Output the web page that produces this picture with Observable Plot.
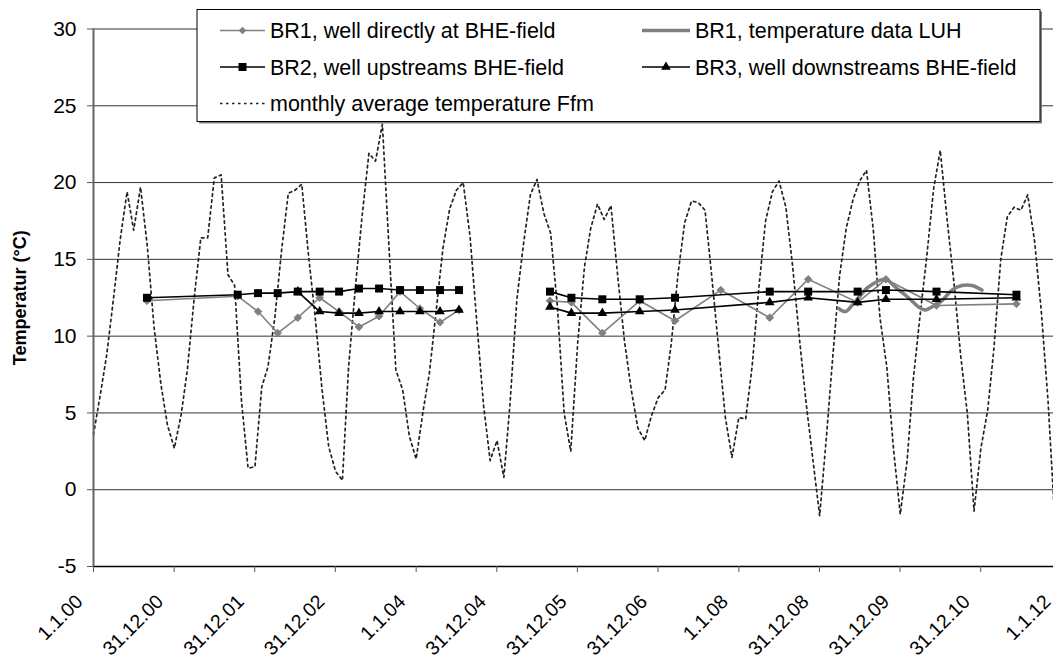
<!DOCTYPE html>
<html><head><meta charset="utf-8">
<script src="https://cdn.jsdelivr.net/npm/d3@7"></script>
<script src="https://cdn.jsdelivr.net/npm/@observablehq/plot@0.6"></script>
<style>
html,body{margin:0;padding:0;background:#fff;overflow:hidden;}
#wrap{position:relative;width:1053px;height:659px;overflow:hidden;font-family:"Liberation Sans",Arial,sans-serif;}
#legend{position:absolute;left:0;top:0;}
</style></head><body><div id="wrap"></div>
<script>
// ---------- data ----------
const yTicks = [-5, 0, 5, 10, 15, 20, 25, 30];
const xTickDates = ["2000-01-01","2000-12-31","2001-12-31","2002-12-31","2004-01-01","2004-12-31","2005-12-31","2006-12-31","2008-01-01","2008-12-31","2009-12-31","2010-12-31","2012-01-01"];
const yTitle = "Temperatur (°C)";
const legendLabels = ["BR1, well directly at BHE-field","BR1, temperature data LUH","BR2, well upstreams BHE-field","BR3, well downstreams BHE-field","monthly average temperature Ffm"];

// monthly average temperature Frankfurt, first value = Jan 2000
const ffmStart = "2000-01-01";
const ffmTemps = [
  3.6, 6.2, 8.8, 12.5, 16.3, 19.4, 16.9, 19.7, 15.8, 10.6, 6.9, 4.2,
  2.7, 4.9, 7.8, 12.5, 16.4, 16.4, 20.3, 20.5, 14.0, 13.3, 5.8, 1.4,
  1.5, 6.7, 8.0, 11.2, 15.5, 19.3, 19.5, 19.9, 15.2, 11.2, 6.5, 2.8,
  1.2, 0.6, 8.0, 13.2, 17.8, 21.9, 21.4, 23.8, 15.5, 7.8, 6.5, 3.5,
  2.0, 5.1, 7.6, 11.7, 15.7, 18.3, 19.5, 20.0, 16.5, 11.0, 5.5, 1.9,
  3.2, 0.8, 5.6, 12.4, 16.0, 19.2, 20.2, 18.0, 16.7, 12.0, 5.0, 2.5,
  9.5, 14.5, 17.0, 18.6, 17.6, 18.5, 14.0, 9.7, 6.5, 4.0, 3.2, 4.8,
  6.0, 6.5, 9.5, 14.1, 17.4, 18.8, 18.7, 18.2, 13.8, 9.3, 4.7, 2.1,
  4.7, 4.6, 8.0, 13.2, 17.5, 19.4, 20.1, 18.4, 14.5, 9.9, 5.6, 2.0,
  -1.7, 3.5, 8.6, 13.9, 17.0, 18.9, 20.1, 20.8, 16.9, 11.2, 8.0, 2.7,
  -1.6, 1.9, 7.2, 11.4, 15.2, 19.6, 22.1, 17.6, 13.5, 8.8, 4.9, -1.4,
  2.7, 5.2, 9.2, 15.0, 17.8, 18.4, 18.2, 19.2, 16.2, 11.7, 5.8, -1.8
];

// wells (measurement campaigns; no data between 2004-07 and 2005-08)
const measurementBreak = "2005-01-01";
const br1Dates = ["2000-08-30","2001-10-15","2002-01-15","2002-04-14","2002-07-14","2002-10-21","2003-01-17","2003-04-17","2003-07-17","2003-10-20","2004-01-18","2004-04-18","2004-07-13","2005-08-29","2005-12-04","2006-04-23","2006-10-09","2007-03-18","2007-10-11","2008-05-20","2008-11-10","2009-06-22","2009-10-28","2010-06-14","2011-06-11"];
const br1Temps = [12.3, 12.6, 11.6, 10.2, 11.2, 12.5, 11.6, 10.6, 11.3, 12.9, 11.8, 10.9, 11.7, 12.3, 12.2, 10.2, 12.3, 11.0, 13.0, 11.2, 13.7, 12.2, 13.7, 12.0, 12.1];

const br2Dates = ["2000-08-30","2001-10-15","2002-01-15","2002-04-14","2002-07-14","2002-10-21","2003-01-17","2003-04-17","2003-07-17","2003-10-20","2004-01-18","2004-04-18","2004-07-13","2005-08-29","2005-12-04","2006-04-23","2006-10-09","2007-03-18","2008-05-20","2008-11-10","2009-06-22","2009-10-28","2010-06-14","2011-06-11"];
const br2Temps = [12.5, 12.7, 12.8, 12.8, 12.9, 12.9, 12.9, 13.1, 13.1, 13.0, 13.0, 13.0, 13.0, 12.9, 12.5, 12.4, 12.4, 12.5, 12.9, 12.9, 12.9, 13.0, 12.9, 12.7];

const br3Dates = ["2002-07-14","2002-10-21","2003-01-17","2003-04-17","2003-07-17","2003-10-20","2004-01-18","2004-04-18","2004-07-13","2005-08-29","2005-12-04","2006-04-23","2006-10-09","2007-03-18","2008-05-20","2008-11-10","2009-06-22","2009-10-28","2010-06-14","2011-06-11"];
const br3Temps = [12.9, 11.6, 11.5, 11.5, 11.6, 11.6, 11.6, 11.6, 11.7, 11.9, 11.5, 11.5, 11.6, 11.7, 12.2, 12.5, 12.2, 12.4, 12.4, 12.5];

const luhDates = ["2009-03-28","2009-04-27","2009-05-27","2009-06-26","2009-08-10","2009-10-25","2009-12-09","2010-02-07","2010-03-25","2010-04-24","2010-05-24","2010-07-08","2010-08-23","2010-10-07","2010-11-21","2011-01-06"];
const luhTemps = [11.8, 11.6, 12.0, 12.5, 13.2, 13.7, 13.2, 12.5, 11.9, 11.7, 11.9, 12.3, 13.0, 13.3, 13.3, 13.0];

// ---------- build ----------
const parse = d3.utcParse("%Y-%m-%d");
const brk = parse(measurementBreak);
const t0 = parse(ffmStart);
const ffm = ffmTemps.map((v, i) => ({date: d3.utcMonth.offset(t0, i), temp: v}));
const series = (dates, vals) => dates.map((d, i) => {
  const date = parse(d);
  return {date, temp: vals[i], seg: date < brk ? 0 : 1};
});
const br1 = series(br1Dates, br1Temps);
const br2 = series(br2Dates, br2Temps);
const br3 = series(br3Dates, br3Temps);
const luh = series(luhDates, luhTemps);
const xTicks = xTickDates.map(parse);
const fmt = d3.utcFormat("%-d.%-m.%y");

const GREY = "#808080";
const font = '"Liberation Sans", Arial, sans-serif';

const chart = Plot.plot({
  width: 1053, height: 659,
  marginLeft: 93, marginRight: 0, marginTop: 28.5, marginBottom: 93,
  style: {fontFamily: font, fontSize: "21px", background: "#fff", color: "#000", overflow: "visible"},
  x: {type: "utc", domain: [xTicks[0], xTicks[xTicks.length - 1]], range: [93, 1061]},
  y: {domain: [yTicks[0], yTicks[yTicks.length - 1]], range: [566, 28.5]},
  marks: [
    Plot.gridY(yTicks, {stroke: "#333", strokeOpacity: 1, strokeWidth: 1}),
    Plot.line(ffm, {x: "date", y: "temp", stroke: "#222", strokeWidth: 1.7, strokeDasharray: "2.5,3.5"}),
    Plot.line(br1, {x: "date", y: "temp", z: "seg", stroke: GREY, strokeWidth: 1.6}),
    Plot.dot(br1, {x: "date", y: "temp", symbol: "diamond2", r: 3.4, fill: GREY, stroke: GREY, strokeWidth: 1}),
    Plot.line(luh, {x: "date", y: "temp", curve: "catmull-rom", stroke: GREY, strokeWidth: 3.5}),
    Plot.line(br2, {x: "date", y: "temp", z: "seg", stroke: "#000", strokeWidth: 1.6}),
    Plot.dot(br2, {x: "date", y: "temp", symbol: "square", r: 4.5, fill: "#000", stroke: "none"}),
    Plot.line(br3, {x: "date", y: "temp", z: "seg", stroke: "#000", strokeWidth: 1.6}),
    Plot.dot(br3, {x: "date", y: "temp", symbol: "triangle", r: 3.6, fill: "#000", stroke: "none"}),
    Plot.ruleY([yTicks[0]], {stroke: "#000", strokeWidth: 1.5}),
    Plot.ruleX([xTicks[0]], {stroke: "#666", strokeWidth: 2}),
    Plot.axisY({ticks: yTicks, tickFormat: d => String(d), tickSize: 6, tickPadding: 11, label: null, stroke: "#555", fontSize: 21}),
    // x tick marks
    Plot.axisX({ticks: xTicks, tickFormat: () => "", tickSize: 6, label: null, stroke: "#555"}),
    // x tick labels (rotated, offset below the ticks)
    Plot.axisX({ticks: xTicks, tickFormat: fmt, tickRotate: -45, tickSize: 0, tickPadding: 0, textAnchor: "end", lineAnchor: "middle", dx: -14, dy: 32, label: null, fontSize: 19.5}),
    Plot.text([yTitle], {text: d => d, frameAnchor: "left", textAnchor: "middle", lineAnchor: "middle", rotate: -90, dx: -73, fontWeight: "bold", fontSize: 18})
  ]
});
const wrap = document.getElementById("wrap");
wrap.appendChild(chart);

// ---------- legend (overlay) ----------
const lg = d3.select(wrap).append("svg").attr("id", "legend")
  .attr("width", 1053).attr("height", 659)
  .style("font-family", font).style("font-size", "21.5px");
const box = {x: 197, y: 9.5, w: 843, h: 112};
lg.append("rect").attr("x", box.x + 2).attr("y", box.y + 2).attr("width", box.w).attr("height", box.h).attr("fill", GREY);
lg.append("rect").attr("x", box.x).attr("y", box.y).attr("width", box.w).attr("height", box.h).attr("fill", "#fff").attr("stroke", "#000").attr("stroke-width", 1);
const colX = [box.x + 23, box.x + 445];
const rowY = [box.y + 21, box.y + 57.5, box.y + 94];
const keyLen = [45, 48];
const styles = [
  {stroke: GREY, w: 1.6, sym: d3.symbolDiamond2, r: 3.4, fill: GREY},
  {stroke: GREY, w: 3.5},
  {stroke: "#000", w: 1.6, sym: d3.symbolSquare, r: 4.5, fill: "#000"},
  {stroke: "#000", w: 1.6, sym: d3.symbolTriangle, r: 3.6, fill: "#000"},
  {stroke: "#222", w: 1.7, dash: "2.5,3.5"}
];
legendLabels.forEach((label, i) => {
  const c = i === 4 ? 0 : i % 2, r = Math.floor(i / 2);
  const x0 = colX[c], y0 = rowY[r], len = keyLen[c];
  const s = styles[i];
  lg.append("line").attr("x1", x0).attr("x2", x0 + len).attr("y1", y0).attr("y2", y0)
    .attr("stroke", s.stroke).attr("stroke-width", s.w).attr("stroke-dasharray", s.dash || null);
  if (s.sym) lg.append("path").attr("d", d3.symbol(s.sym, Math.PI * s.r * s.r)())
    .attr("transform", `translate(${x0 + len / 2},${y0})`).attr("fill", s.fill);
  lg.append("text").attr("x", x0 + len + 5).attr("y", y0).attr("dy", "0.35em").text(label);
});
</script>
</body></html>
